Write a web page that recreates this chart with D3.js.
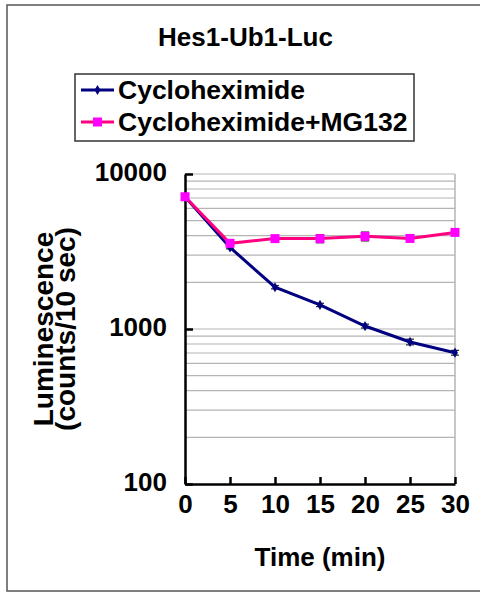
<!DOCTYPE html>
<html>
<head>
<meta charset="utf-8">
<script src="https://cdn.jsdelivr.net/npm/d3@7"></script>
<style>
  body { margin: 0; background: #fff; }
  text { font-family: "Liberation Sans", Arial, Helvetica, sans-serif; font-weight: bold; fill: #000; }
</style>
</head>
<body>
<div id="chart"></div>
<script>
// data
const times = [0, 5, 10, 15, 20, 25, 30];
const cyclo = [7130, 3360, 1860, 1430, 1045, 825, 703];
const cycloErr = [90, 70, 45, 35, 30, 35, 25];
const mg132 = [7130, 3570, 3830, 3830, 3960, 3840, 4200];
const mg132Err = [90, 110, 120, 230, 260, 120, 100];
const yTicks = [100, 1000, 10000];
const seriesNames = ["Cycloheximide", "Cycloheximide+MG132"];

const width = 480, height = 592;
const margin = { left: 185, right: 25, top: 174, bottom: 108 };

const svg = d3.select("#chart").append("svg")
    .attr("width", width)
    .attr("height", height);

// outer frame (right side runs off the picture)
svg.append("rect")
    .attr("x", 7).attr("y", 5)
    .attr("width", 490).attr("height", 586)
    .attr("fill", "none")
    .attr("stroke", "#555")
    .attr("stroke-width", 1.5);

const x = d3.scaleLinear()
    .domain([0, 30])
    .range([margin.left, width - margin.right]);

const y = d3.scaleLog()
    .domain([100, 10000])
    .range([height - margin.bottom, margin.top]);

// gridlines on every minor log step
const gridVals = [];
[100, 1000].forEach(dec => { for (let k = 1; k <= 9; k++) gridVals.push(dec * k); });
gridVals.push(10000);

svg.append("g").selectAll("line")
    .data(gridVals.filter(v => v > 100))
    .enter().append("line")
    .attr("x1", x(0)).attr("x2", x(30))
    .attr("y1", d => y(d)).attr("y2", d => y(d))
    .attr("stroke", "#b4b4b4")
    .attr("stroke-width", 1.2);

// right border of plot
svg.append("line")
    .attr("x1", x(30)).attr("x2", x(30))
    .attr("y1", y(10000)).attr("y2", y(100))
    .attr("stroke", "#b4b4b4")
    .attr("stroke-width", 1.5);

// axes
const yAxis = svg.append("g")
    .attr("transform", "translate(" + x(0) + ",0)")
    .call(d3.axisLeft(y).tickValues(yTicks).tickFormat(d3.format("d")).tickSizeInner(-8).tickSizeOuter(0).tickPadding(18));
yAxis.select(".domain").attr("stroke", "#000").attr("stroke-width", 2.5);
yAxis.selectAll(".tick line").attr("stroke", "#000").attr("stroke-width", 2.5);
yAxis.selectAll("text")
    .attr("font-size", 26)
    .attr("dy", "0.25em")
    .style("font-family", "'Liberation Sans', Arial, sans-serif")
    .style("font-weight", "bold");

const xAxis = svg.append("g")
    .attr("transform", "translate(0," + y(100) + ")")
    .call(d3.axisBottom(x).tickValues(times).tickSizeInner(-7).tickSizeOuter(0).tickPadding(15));
xAxis.select(".domain").attr("stroke", "#000").attr("stroke-width", 2.5);
xAxis.selectAll(".tick line").attr("stroke", "#000").attr("stroke-width", 2.5);
xAxis.selectAll("text")
    .attr("font-size", 26)
    .attr("dy", "0.55em")
    .style("font-family", "'Liberation Sans', Arial, sans-serif")
    .style("font-weight", "bold");

// series
const line = d3.line()
    .x((d, i) => x(times[i]))
    .y(d => y(d));

function errorBars(vals, errs) {
    const g = svg.append("g");
    vals.forEach((v, i) => {
        const cx = x(times[i]);
        const y0 = y(v + errs[i]), y1 = y(v - errs[i]);
        g.append("line").attr("x1", cx).attr("x2", cx).attr("y1", y0).attr("y2", y1)
            .attr("stroke", "#222").attr("stroke-width", 1.2);
        [y0, y1].forEach(yy => g.append("line")
            .attr("x1", cx - 4).attr("x2", cx + 4).attr("y1", yy).attr("y2", yy)
            .attr("stroke", "#222").attr("stroke-width", 1.2));
    });
}

errorBars(cyclo, cycloErr);
svg.append("path")
    .datum(cyclo)
    .attr("d", line)
    .attr("fill", "none")
    .attr("stroke", "#000080")
    .attr("stroke-width", 3);
svg.append("g").selectAll("path")
    .data(cyclo)
    .enter().append("path")
    .attr("transform", (d, i) => "translate(" + x(times[i]) + "," + y(d) + ")")
    .attr("d", d3.symbol(d3.symbolDiamond, 30))
    .attr("fill", "#000080");

errorBars(mg132, mg132Err);
svg.append("path")
    .datum(mg132)
    .attr("d", line)
    .attr("fill", "none")
    .attr("stroke", "#ff0080")
    .attr("stroke-width", 3);
svg.append("g").selectAll("rect")
    .data(mg132)
    .enter().append("rect")
    .attr("x", (d, i) => x(times[i]) - 4.5)
    .attr("y", d => y(d) - 4.5)
    .attr("width", 9).attr("height", 9)
    .attr("fill", "#ff00ff");

// title
svg.append("text")
    .attr("x", 245.5).attr("y", 46)
    .attr("text-anchor", "middle")
    .attr("font-size", 26)
    .text("Hes1-Ub1-Luc");

// legend
svg.append("rect")
    .attr("x", 75).attr("y", 74)
    .attr("width", 339).attr("height", 67)
    .attr("fill", "#fff")
    .attr("stroke", "#333")
    .attr("stroke-width", 1.5);

const legend = svg.append("g");
seriesNames.forEach((name, i) => {
    const ly = 90 + i * 32;
    const col = i === 0 ? "#000080" : "#ff0080";
    legend.append("line")
        .attr("x1", 81).attr("x2", 114).attr("y1", ly).attr("y2", ly)
        .attr("stroke", col).attr("stroke-width", 3);
    if (i === 0) {
        legend.append("path")
            .attr("transform", "translate(97.5," + ly + ")")
            .attr("d", d3.symbol(d3.symbolDiamond, 30))
            .attr("fill", "#000080");
    } else {
        legend.append("rect")
            .attr("x", 93).attr("y", ly - 4.5)
            .attr("width", 9).attr("height", 9)
            .attr("fill", "#ff00ff");
    }
    legend.append("text")
        .attr("x", 118).attr("y", ly + 9)
        .attr("font-size", 26.5)
        .text(name);
});

// axis titles
svg.append("text")
    .attr("x", x(15)).attr("y", 566)
    .attr("text-anchor", "middle")
    .attr("font-size", 26)
    .text("Time (min)");

const ylab = svg.append("g")
    .attr("transform", "translate(0," + ((y(100) + y(10000)) / 2) + ") rotate(-90)");
ylab.append("text")
    .attr("x", 0).attr("y", 53)
    .attr("text-anchor", "middle")
    .attr("font-size", 28)
    .text("Luminescence");
ylab.append("text")
    .attr("x", 0).attr("y", 75)
    .attr("text-anchor", "middle")
    .attr("font-size", 28)
    .text("(counts/10 sec)");
</script>
</body>
</html>
